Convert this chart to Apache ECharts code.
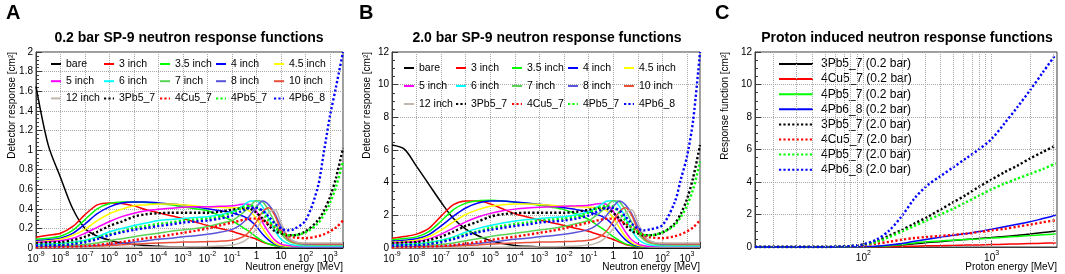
<!DOCTYPE html>
<html>
<head>
<meta charset="utf-8">
<script src="https://cdn.jsdelivr.net/npm/echarts@6/dist/echarts.min.js"></script>
<style>
  html, body { margin: 0; padding: 0; background: #fff; }
  #chart { width: 1065px; height: 274px; }
</style>
</head>
<body>
<div id="chart"></div>
<script>
// log10 of neutron energy [MeV] for panels A and B
const logE = [
  -9, -8.5, -8, -7.5, -7, -6.5, -6, -5.5, -5, -4.5, -4, -3.5, -3, -2.5, -2, -1.5, -1,
  -0.75, -0.5, -0.25, 0, 0.25, 0.5, 0.75, 1, 1.25, 1.5,
  2, 2.5, 2.75, 3, 3.25, 3.53,
];

const detectorNames = [
  "bare", "3 inch", "3.5 inch", "4 inch", "4.5 inch", "5 inch", "6 inch", "7 inch",
  "8 inch", "10 inch", "12 inch", "3Pb5_7", "4Cu5_7", "4Pb5_7", "4Pb6_8",
];

// 0.2 bar responses [cm2]
const a_bare = [1.65, 1.05, 0.72, 0.4, 0.2, 0.12, 0.08, 0.05, 0.035, 0.025, 0.018, 0.012, 0.009, 0.007, 0.005, 0.004, 0.003,
  0.003, 0.003, 0.002, 0.002, 0.002, 0.002, 0.002, 0.001, 0.001, 0.001,
  0.001, 0.001, 0.001, 0.001, 0.001, 0.001];
const a_3in = [0.11, 0.13, 0.15, 0.22, 0.34, 0.44, 0.46, 0.455, 0.43, 0.39, 0.36, 0.33, 0.3, 0.265, 0.23, 0.2, 0.17,
  0.15, 0.13, 0.11, 0.09, 0.06, 0.04, 0.025, 0.015, 0.01, 0.008,
  0.008, 0.008, 0.008, 0.008, 0.008, 0.008];
const a_35in = [0.09, 0.1, 0.12, 0.18, 0.29, 0.4, 0.455, 0.47, 0.47, 0.465, 0.455, 0.44, 0.42, 0.4, 0.38, 0.33, 0.28,
  0.24, 0.2, 0.16, 0.11, 0.07, 0.04, 0.025, 0.015, 0.01, 0.008,
  0.008, 0.008, 0.008, 0.008, 0.008, 0.008];
const a_4in = [0.075, 0.085, 0.1, 0.15, 0.245, 0.35, 0.42, 0.46, 0.47, 0.47, 0.46, 0.45, 0.44, 0.42, 0.4, 0.38, 0.36,
  0.34, 0.32, 0.28, 0.22, 0.14, 0.08, 0.04, 0.02, 0.015, 0.01,
  0.01, 0.01, 0.01, 0.01, 0.01, 0.01];
const a_45in = [0.065, 0.075, 0.09, 0.13, 0.19, 0.28, 0.35, 0.395, 0.43, 0.44, 0.45, 0.45, 0.44, 0.43, 0.42, 0.415, 0.41,
  0.41, 0.4, 0.37, 0.3, 0.2, 0.11, 0.05, 0.025, 0.018, 0.015,
  0.015, 0.015, 0.015, 0.015, 0.015, 0.015];
const a_5in = [0.055, 0.065, 0.075, 0.1, 0.15, 0.21, 0.27, 0.32, 0.355, 0.38, 0.395, 0.405, 0.415, 0.42, 0.42, 0.425, 0.43,
  0.44, 0.45, 0.44, 0.37, 0.26, 0.16, 0.08, 0.04, 0.025, 0.02,
  0.015, 0.015, 0.015, 0.015, 0.015, 0.015];
const a_6in = [0.035, 0.04, 0.045, 0.06, 0.08, 0.115, 0.165, 0.2, 0.23, 0.255, 0.28, 0.29, 0.3, 0.31, 0.32, 0.34, 0.37,
  0.4, 0.44, 0.48, 0.48, 0.42, 0.3, 0.18, 0.09, 0.05, 0.03,
  0.02, 0.02, 0.02, 0.02, 0.02, 0.02];
const a_7in = [0.015, 0.018, 0.022, 0.028, 0.035, 0.05, 0.075, 0.095, 0.115, 0.135, 0.15, 0.17, 0.185, 0.2, 0.22, 0.25, 0.28,
  0.32, 0.37, 0.43, 0.485, 0.47, 0.38, 0.26, 0.15, 0.08, 0.05,
  0.03, 0.03, 0.03, 0.03, 0.03, 0.03];
const a_8in = [0.007, 0.009, 0.012, 0.014, 0.017, 0.025, 0.035, 0.047, 0.06, 0.075, 0.09, 0.1, 0.115, 0.125, 0.14, 0.16, 0.19,
  0.22, 0.27, 0.34, 0.42, 0.48, 0.44, 0.35, 0.22, 0.12, 0.07,
  0.04, 0.04, 0.04, 0.04, 0.04, 0.04];
const a_10in = [0.004, 0.005, 0.006, 0.008, 0.01, 0.017, 0.025, 0.032, 0.04, 0.045, 0.05, 0.055, 0.06, 0.062, 0.065, 0.07, 0.08,
  0.095, 0.12, 0.18, 0.27, 0.37, 0.41, 0.33, 0.18, 0.1, 0.06,
  0.045, 0.04, 0.04, 0.04, 0.04, 0.04];
const a_12in = [0.002, 0.002, 0.003, 0.003, 0.004, 0.005, 0.006, 0.007, 0.008, 0.009, 0.01, 0.01, 0.011, 0.013, 0.015, 0.02, 0.03,
  0.045, 0.07, 0.12, 0.2, 0.29, 0.36, 0.39, 0.26, 0.13, 0.07,
  0.05, 0.05, 0.05, 0.05, 0.05, 0.05];
const a_3Pb5_7 = [0.05, 0.055, 0.06, 0.08, 0.115, 0.165, 0.225, 0.27, 0.32, 0.345, 0.355, 0.36, 0.36, 0.36, 0.36, 0.37, 0.39,
  0.4, 0.41, 0.4, 0.36, 0.3, 0.23, 0.17, 0.15, 0.13, 0.13,
  0.17, 0.28, 0.38, 0.52, 0.72, 1.02];
const a_4Cu5_7 = [0.008, 0.01, 0.012, 0.015, 0.02, 0.03, 0.045, 0.06, 0.08, 0.1, 0.115, 0.135, 0.155, 0.175, 0.2, 0.23, 0.26,
  0.275, 0.29, 0.3, 0.3, 0.28, 0.25, 0.21, 0.17, 0.13, 0.11,
  0.1, 0.12, 0.14, 0.17, 0.21, 0.28];
const a_4Pb5_7 = [0.03, 0.035, 0.04, 0.05, 0.07, 0.1, 0.14, 0.17, 0.205, 0.225, 0.245, 0.26, 0.28, 0.29, 0.3, 0.32, 0.36,
  0.39, 0.42, 0.43, 0.42, 0.36, 0.28, 0.21, 0.16, 0.13, 0.13,
  0.16, 0.25, 0.34, 0.46, 0.63, 0.88];
const a_4Pb6_8 = [0.025, 0.028, 0.03, 0.04, 0.06, 0.09, 0.13, 0.16, 0.185, 0.205, 0.225, 0.24, 0.26, 0.27, 0.28, 0.3, 0.33,
  0.36, 0.39, 0.41, 0.41, 0.38, 0.32, 0.25, 0.2, 0.18, 0.19,
  0.28, 0.62, 0.98, 1.35, 1.65, 2.0];

// 2.0 bar responses [cm2]
const b_bare = [6.3, 6.05, 5.0, 3.9, 2.8, 1.8, 1.15, 0.75, 0.45, 0.27, 0.16, 0.1, 0.06, 0.04, 0.03, 0.02, 0.015,
  0.012, 0.01, 0.01, 0.01, 0.008, 0.008, 0.006, 0.005, 0.005, 0.005,
  0.005, 0.005, 0.005, 0.005, 0.005, 0.005];
const b_3in = [0.6, 0.7, 0.85, 1.2, 1.95, 2.65, 2.88, 2.88, 2.7, 2.4, 2.1, 1.9, 1.72, 1.55, 1.38, 1.2, 1.02,
  0.9, 0.78, 0.65, 0.52, 0.36, 0.22, 0.14, 0.09, 0.06, 0.05,
  0.05, 0.05, 0.05, 0.05, 0.05, 0.05];
const b_35in = [0.5, 0.58, 0.68, 1.0, 1.65, 2.35, 2.75, 2.9, 2.92, 2.88, 2.8, 2.72, 2.62, 2.5, 2.35, 2.08, 1.75,
  1.5, 1.25, 0.98, 0.7, 0.45, 0.25, 0.15, 0.09, 0.06, 0.05,
  0.05, 0.05, 0.05, 0.05, 0.05, 0.05];
const b_4in = [0.42, 0.48, 0.56, 0.82, 1.35, 1.95, 2.45, 2.75, 2.87, 2.87, 2.82, 2.75, 2.68, 2.58, 2.46, 2.35, 2.22,
  2.1, 1.97, 1.75, 1.38, 0.9, 0.5, 0.25, 0.12, 0.08, 0.06,
  0.06, 0.06, 0.06, 0.06, 0.06, 0.06];
const b_45in = [0.35, 0.4, 0.48, 0.7, 1.1, 1.6, 2.05, 2.35, 2.55, 2.65, 2.7, 2.7, 2.67, 2.62, 2.56, 2.52, 2.5,
  2.48, 2.42, 2.25, 1.85, 1.25, 0.7, 0.33, 0.16, 0.1, 0.08,
  0.08, 0.08, 0.08, 0.08, 0.08, 0.08];
const b_5in = [0.3, 0.34, 0.4, 0.56, 0.85, 1.22, 1.6, 1.9, 2.12, 2.28, 2.38, 2.45, 2.5, 2.52, 2.55, 2.58, 2.62,
  2.68, 2.72, 2.66, 2.25, 1.6, 0.98, 0.5, 0.25, 0.14, 0.1,
  0.09, 0.09, 0.09, 0.09, 0.09, 0.09];
const b_6in = [0.2, 0.22, 0.26, 0.34, 0.48, 0.68, 0.97, 1.2, 1.38, 1.53, 1.65, 1.74, 1.8, 1.86, 1.92, 2.03, 2.22,
  2.42, 2.65, 2.88, 2.9, 2.55, 1.85, 1.1, 0.55, 0.3, 0.18,
  0.12, 0.12, 0.12, 0.12, 0.12, 0.12];
const b_7in = [0.09, 0.1, 0.13, 0.17, 0.21, 0.3, 0.45, 0.57, 0.7, 0.81, 0.9, 1.0, 1.1, 1.2, 1.32, 1.5, 1.68,
  1.92, 2.22, 2.58, 2.9, 2.82, 2.3, 1.58, 0.92, 0.5, 0.3,
  0.18, 0.18, 0.18, 0.18, 0.18, 0.18];
const b_8in = [0.04, 0.05, 0.07, 0.08, 0.1, 0.15, 0.21, 0.28, 0.36, 0.45, 0.54, 0.6, 0.69, 0.75, 0.84, 0.96, 1.14,
  1.32, 1.62, 2.04, 2.52, 2.88, 2.64, 2.1, 1.32, 0.72, 0.42,
  0.24, 0.24, 0.24, 0.24, 0.24, 0.24];
const b_10in = [0.02, 0.03, 0.04, 0.05, 0.06, 0.1, 0.15, 0.19, 0.24, 0.27, 0.3, 0.33, 0.36, 0.37, 0.39, 0.42, 0.48,
  0.57, 0.72, 1.08, 1.62, 2.22, 2.46, 2.0, 1.1, 0.6, 0.36,
  0.27, 0.24, 0.24, 0.24, 0.24, 0.24];
const b_12in = [0.01, 0.01, 0.02, 0.02, 0.02, 0.03, 0.04, 0.04, 0.05, 0.05, 0.06, 0.06, 0.07, 0.08, 0.09, 0.12, 0.18,
  0.27, 0.42, 0.72, 1.2, 1.74, 2.16, 2.34, 1.56, 0.78, 0.42,
  0.3, 0.3, 0.3, 0.3, 0.3, 0.3];
const b_3Pb5_7 = [0.3, 0.33, 0.36, 0.48, 0.7, 1.0, 1.35, 1.62, 1.92, 2.07, 2.13, 2.16, 2.16, 2.16, 2.16, 2.22, 2.34,
  2.4, 2.46, 2.4, 2.16, 1.8, 1.38, 1.02, 0.9, 0.78, 0.78,
  0.95, 1.5, 2.1, 3.0, 4.3, 6.3];
const b_4Cu5_7 = [0.05, 0.06, 0.07, 0.09, 0.12, 0.18, 0.27, 0.36, 0.48, 0.6, 0.69, 0.81, 0.93, 1.05, 1.2, 1.38, 1.56,
  1.65, 1.74, 1.8, 1.8, 1.68, 1.5, 1.26, 1.02, 0.78, 0.66,
  0.6, 0.72, 0.84, 1.02, 1.26, 1.7];
const b_4Pb5_7 = [0.18, 0.21, 0.24, 0.3, 0.42, 0.6, 0.84, 1.02, 1.23, 1.35, 1.47, 1.56, 1.68, 1.74, 1.8, 1.92, 2.16,
  2.34, 2.52, 2.58, 2.52, 2.16, 1.68, 1.26, 0.96, 0.8, 0.78,
  0.95, 1.4, 1.9, 2.6, 3.6, 5.3];
const b_4Pb6_8 = [0.15, 0.17, 0.18, 0.24, 0.36, 0.54, 0.78, 0.96, 1.11, 1.23, 1.35, 1.44, 1.56, 1.62, 1.68, 1.8, 1.98,
  2.16, 2.34, 2.46, 2.46, 2.28, 1.92, 1.5, 1.2, 1.08, 1.14,
  1.4, 2.8, 4.2, 5.6, 7.8, 12.0];

// panel C: log10 of proton energy [MeV]
const cLogE = [1.155, 1.5, 1.7, 1.8, 1.9, 2.0, 2.1, 2.2, 2.3, 2.4, 2.5, 2.6, 2.7, 2.8, 2.9, 3.0, 3.1, 3.2, 3.3, 3.4, 3.5];
const protonNames = [
  "3Pb5_7 (0.2 bar)", "4Cu5_7 (0.2 bar)", "4Pb5_7 (0.2 bar)", "4Pb6_8 (0.2 bar)",
  "3Pb5_7 (2.0 bar)", "4Cu5_7 (2.0 bar)", "4Pb5_7 (2.0 bar)", "4Pb6_8 (2.0 bar)",
];
const c_3Pb5_7_02 = [0, 0, 0, 0, 0, 0.01, 0.03, 0.06, 0.12, 0.2, 0.27, 0.33, 0.4, 0.46, 0.52, 0.58, 0.65, 0.72, 0.8, 0.89, 0.98];
const c_4Cu5_7_02 = [0, 0, 0, 0, 0, 0, 0.01, 0.02, 0.03, 0.05, 0.07, 0.08, 0.1, 0.12, 0.13, 0.15, 0.17, 0.19, 0.21, 0.23, 0.25];
const c_4Pb5_7_02 = [0, 0, 0, 0, 0, 0.01, 0.03, 0.07, 0.15, 0.25, 0.32, 0.37, 0.42, 0.46, 0.5, 0.55, 0.6, 0.65, 0.7, 0.75, 0.8];
const c_4Pb6_8_02 = [0, 0, 0, 0, 0, 0.02, 0.05, 0.12, 0.22, 0.35, 0.48, 0.6, 0.72, 0.82, 0.95, 1.1, 1.25, 1.4, 1.55, 1.75, 1.95];
const c_3Pb5_7_20 = [0, 0, 0, 0.02, 0.06, 0.16, 0.35, 0.7, 1.05, 1.45, 1.85, 2.3, 2.75, 3.2, 3.7, 4.15, 4.6, 5.0, 5.45, 5.85, 6.25];
const c_4Cu5_7_20 = [0, 0, 0, 0.01, 0.04, 0.1, 0.2, 0.32, 0.45, 0.55, 0.62, 0.68, 0.75, 0.82, 0.92, 1.02, 1.12, 1.25, 1.38, 1.52, 1.65];
const c_4Pb5_7_20 = [0, 0, 0, 0.02, 0.05, 0.14, 0.3, 0.6, 0.95, 1.3, 1.65, 2.0, 2.35, 2.75, 3.15, 3.55, 3.9, 4.2, 4.5, 4.8, 5.15];
const c_4Pb6_8_20 = [0, 0, 0, 0.02, 0.06, 0.16, 0.45, 1.0, 1.9, 3.0, 3.8, 4.35, 4.9, 5.45, 6.0, 6.65, 7.6, 8.6, 9.65, 10.75, 11.85];

// vertical grid lines of panel C (proton energy, MeV)
const cGridEnergies = [20, 30, 40, 50, 60, 70, 80, 90, 100, 200, 300, 400, 500, 600, 700, 800, 900, 1000, 2000, 3000];

const detectorColors = [
  "#000000", "#ff0000", "#00ff00", "#0000ff", "#ffff00", "#ff00ff", "#00ffff", "#59d454",
  "#5954d9", "#e8503a", "#c1b7ad", "#000000", "#ff0000", "#00ff00", "#0000ff",
];
const protonColors = ["#000000", "#ff0000", "#00ff00", "#0000ff", "#000000", "#ff0000", "#00ff00", "#0000ff"];

const panelA = [a_bare, a_3in, a_35in, a_4in, a_45in, a_5in, a_6in, a_7in, a_8in, a_10in, a_12in, a_3Pb5_7, a_4Cu5_7, a_4Pb5_7, a_4Pb6_8];
const panelB = [b_bare, b_3in, b_35in, b_4in, b_45in, b_5in, b_6in, b_7in, b_8in, b_10in, b_12in, b_3Pb5_7, b_4Cu5_7, b_4Pb5_7, b_4Pb6_8];
const panelC = [c_3Pb5_7_02, c_4Cu5_7_02, c_4Pb5_7_02, c_4Pb6_8_02, c_3Pb5_7_20, c_4Cu5_7_20, c_4Pb5_7_20, c_4Pb6_8_20];

const FONT = "Liberation Sans, Arial, sans-serif";
const frameColor = "#3a3a3a";
const gridColor = "#a8a8a8";

function lineSeries(name, xs, ys, color, dotted, axis) {
  return {
    name,
    type: "line",
    xAxisIndex: axis,
    yAxisIndex: axis,
    data: xs.map((x, i) => [x, ys[i]]),
    symbol: "none",
    smooth: 0.3,
    silent: true,
    lineStyle: { color, width: dotted ? 2.4 : 1.5, type: dotted ? [2.2, 2.2] : "solid" },
    itemStyle: { color, opacity: 0 },
  };
}

const expRich = {
  b: { fontSize: 10, fontFamily: FONT, color: "#000", verticalAlign: "bottom" },
  s: { fontSize: 7, fontFamily: FONT, color: "#000", verticalAlign: "bottom", padding: [0, 0, 6, 0] },
};

function expLabel(v) {
  const n = Math.round(v);
  if (Math.abs(v - n) > 1e-6) return "";
  if (n === 0) return "{b|1}";
  if (n === 1) return "{b|10}";
  return "{b|10}{s|" + n + "}";
}

function energyAxis(gi, min, max, extra) {
  return Object.assign({
    gridIndex: gi,
    type: "value",
    min,
    max,
    interval: 1,
    axisLine: { show: true, onZero: false, lineStyle: { color: frameColor } },
    axisTick: { show: true, inside: true, length: 6, lineStyle: { color: frameColor } },
    axisLabel: { formatter: expLabel, rich: expRich, margin: 3, hideOverlap: false },
    splitLine: { show: true, lineStyle: { type: "dotted", color: gridColor } },
  }, extra || {});
}

function responseAxis(gi, max, step) {
  return {
    gridIndex: gi,
    type: "value",
    min: 0,
    max,
    interval: step,
    axisLine: { show: true, onZero: false, lineStyle: { color: frameColor } },
    axisTick: { show: true, inside: true, length: 6, lineStyle: { color: frameColor } },
    minorTick: { show: true, splitNumber: max === 2 ? 5 : 4, length: 3, lineStyle: { color: frameColor } },
    axisLabel: { fontFamily: FONT, fontSize: 10, color: "#000", margin: 3 },
    splitLine: { show: true, lineStyle: { type: "dotted", color: gridColor } },
  };
}

function columnLegends(names, lefts, top, gap) {
  const cols = 5;
  return lefts.map((left, c) => ({
    orient: "vertical",
    left,
    top,
    padding: 0,
    itemGap: gap,
    itemWidth: 10,
    itemHeight: 8,
    selectedMode: false,
    itemStyle: { opacity: 0 },
    textStyle: { fontFamily: FONT, fontSize: 10.5, color: "#000", lineHeight: 14 },
    data: names.filter((_, i) => i % cols === c),
  }));
}

// axis titles (ROOT style: at the far end of each axis)
function axisTitle(text, x, y, vertical) {
  return {
    type: "text",
    x,
    y,
    rotation: vertical ? Math.PI / 2 : 0,
    silent: true,
    style: {
      text,
      font: '10px "Liberation Sans", Arial, sans-serif',
      fill: "#000",
      textAlign: "right",
      textVerticalAlign: "middle",
    },
  };
}

const series = [];
detectorNames.forEach((name, i) => series.push(lineSeries(name, logE, panelA[i], detectorColors[i], i >= 11, 0)));
detectorNames.forEach((name, i) => series.push(lineSeries(name, logE, panelB[i], detectorColors[i], i >= 11, 1)));
series.push({
  name: "c-grid",
  type: "line",
  xAxisIndex: 2,
  yAxisIndex: 2,
  data: [],
  silent: true,
  markLine: {
    silent: true,
    symbol: ["none", "none"],
    label: { show: false },
    lineStyle: { type: "dotted", color: gridColor, width: 1 },
    data: cGridEnergies.map((e) => ({ xAxis: Math.log10(e) })),
  },
});
protonNames.forEach((name, i) => series.push(lineSeries(name, cLogE, panelC[i], protonColors[i], i >= 4, 2)));

const titleStyle = { fontFamily: FONT, fontSize: 14, fontWeight: "bold", color: "#000" };
const letterStyle = { fontFamily: FONT, fontSize: 20, fontWeight: "bold", color: "#000" };

const option = {
  animation: false,
  backgroundColor: "#fff",
  textStyle: { fontFamily: FONT },
  title: [
    { text: "A", left: 6, top: 3, padding: 0, textStyle: letterStyle },
    { text: "B", left: 359, top: 3, padding: 0, textStyle: letterStyle },
    { text: "C", left: 715, top: 3, padding: 0, textStyle: letterStyle },
    { text: "0.2 bar SP-9 neutron response functions", left: 189, top: 31, padding: 0, textAlign: "center", textStyle: titleStyle },
    { text: "2.0 bar SP-9 neutron response functions", left: 547, top: 31, padding: 0, textAlign: "center", textStyle: titleStyle },
    { text: "Proton induced neutron response functions", left: 907, top: 31, padding: 0, textAlign: "center", textStyle: titleStyle },
  ],
  grid: [
    { left: 36, top: 52, width: 307, height: 196, show: true, borderColor: frameColor, borderWidth: 1 },
    { left: 392, top: 52, width: 308, height: 196, show: true, borderColor: frameColor, borderWidth: 1 },
    { left: 755, top: 52, width: 302, height: 195, show: true, borderColor: frameColor, borderWidth: 1 },
  ],
  xAxis: [
    energyAxis(0, -9, 3.53),
    energyAxis(1, -9, 3.53),
    energyAxis(2, Math.log10(14.3), 3.51, {
      interval: undefined,
      axisTick: { show: true, inside: true, length: 6, customValues: [2, 3], lineStyle: { color: frameColor } },
      axisLabel: { formatter: expLabel, rich: expRich, margin: 3, customValues: [2, 3] },
      splitLine: { show: false },
    }),
  ],
  yAxis: [
    responseAxis(0, 2, 0.2),
    responseAxis(1, 12, 2),
    responseAxis(2, 12, 2),
  ],
  legend: [
    ...columnLegends(detectorNames, [50, 103, 159, 215, 273], 57, 3.2),
    ...columnLegends(detectorNames, [403, 455, 511, 567, 623], 61, 4),
    {
      orient: "vertical",
      left: 778,
      top: 57,
      padding: 0,
      itemGap: 1.1,
      itemWidth: 34,
      itemHeight: 8,
      selectedMode: false,
      itemStyle: { opacity: 0 },
      textStyle: { fontFamily: FONT, fontSize: 12, color: "#000", lineHeight: 14, padding: [0, 0, 0, 3] },
      data: protonNames,
    },
  ],
  graphic: [
    axisTitle("Neutron energy [MeV]", 343, 267, false),
    axisTitle("Neutron energy [MeV]", 700, 267, false),
    axisTitle("Proton energy [MeV]", 1057, 267, false),
    axisTitle("Detector response [cm²]", 12, 52, true),
    axisTitle("Detector response [cm²]", 367, 52, true),
    axisTitle("Response function [cm²]", 725, 52, true),
  ],
  series,
};

const chart = echarts.init(document.getElementById("chart"), null, { renderer: "canvas" });
chart.setOption(option);
</script>
</body>
</html>
